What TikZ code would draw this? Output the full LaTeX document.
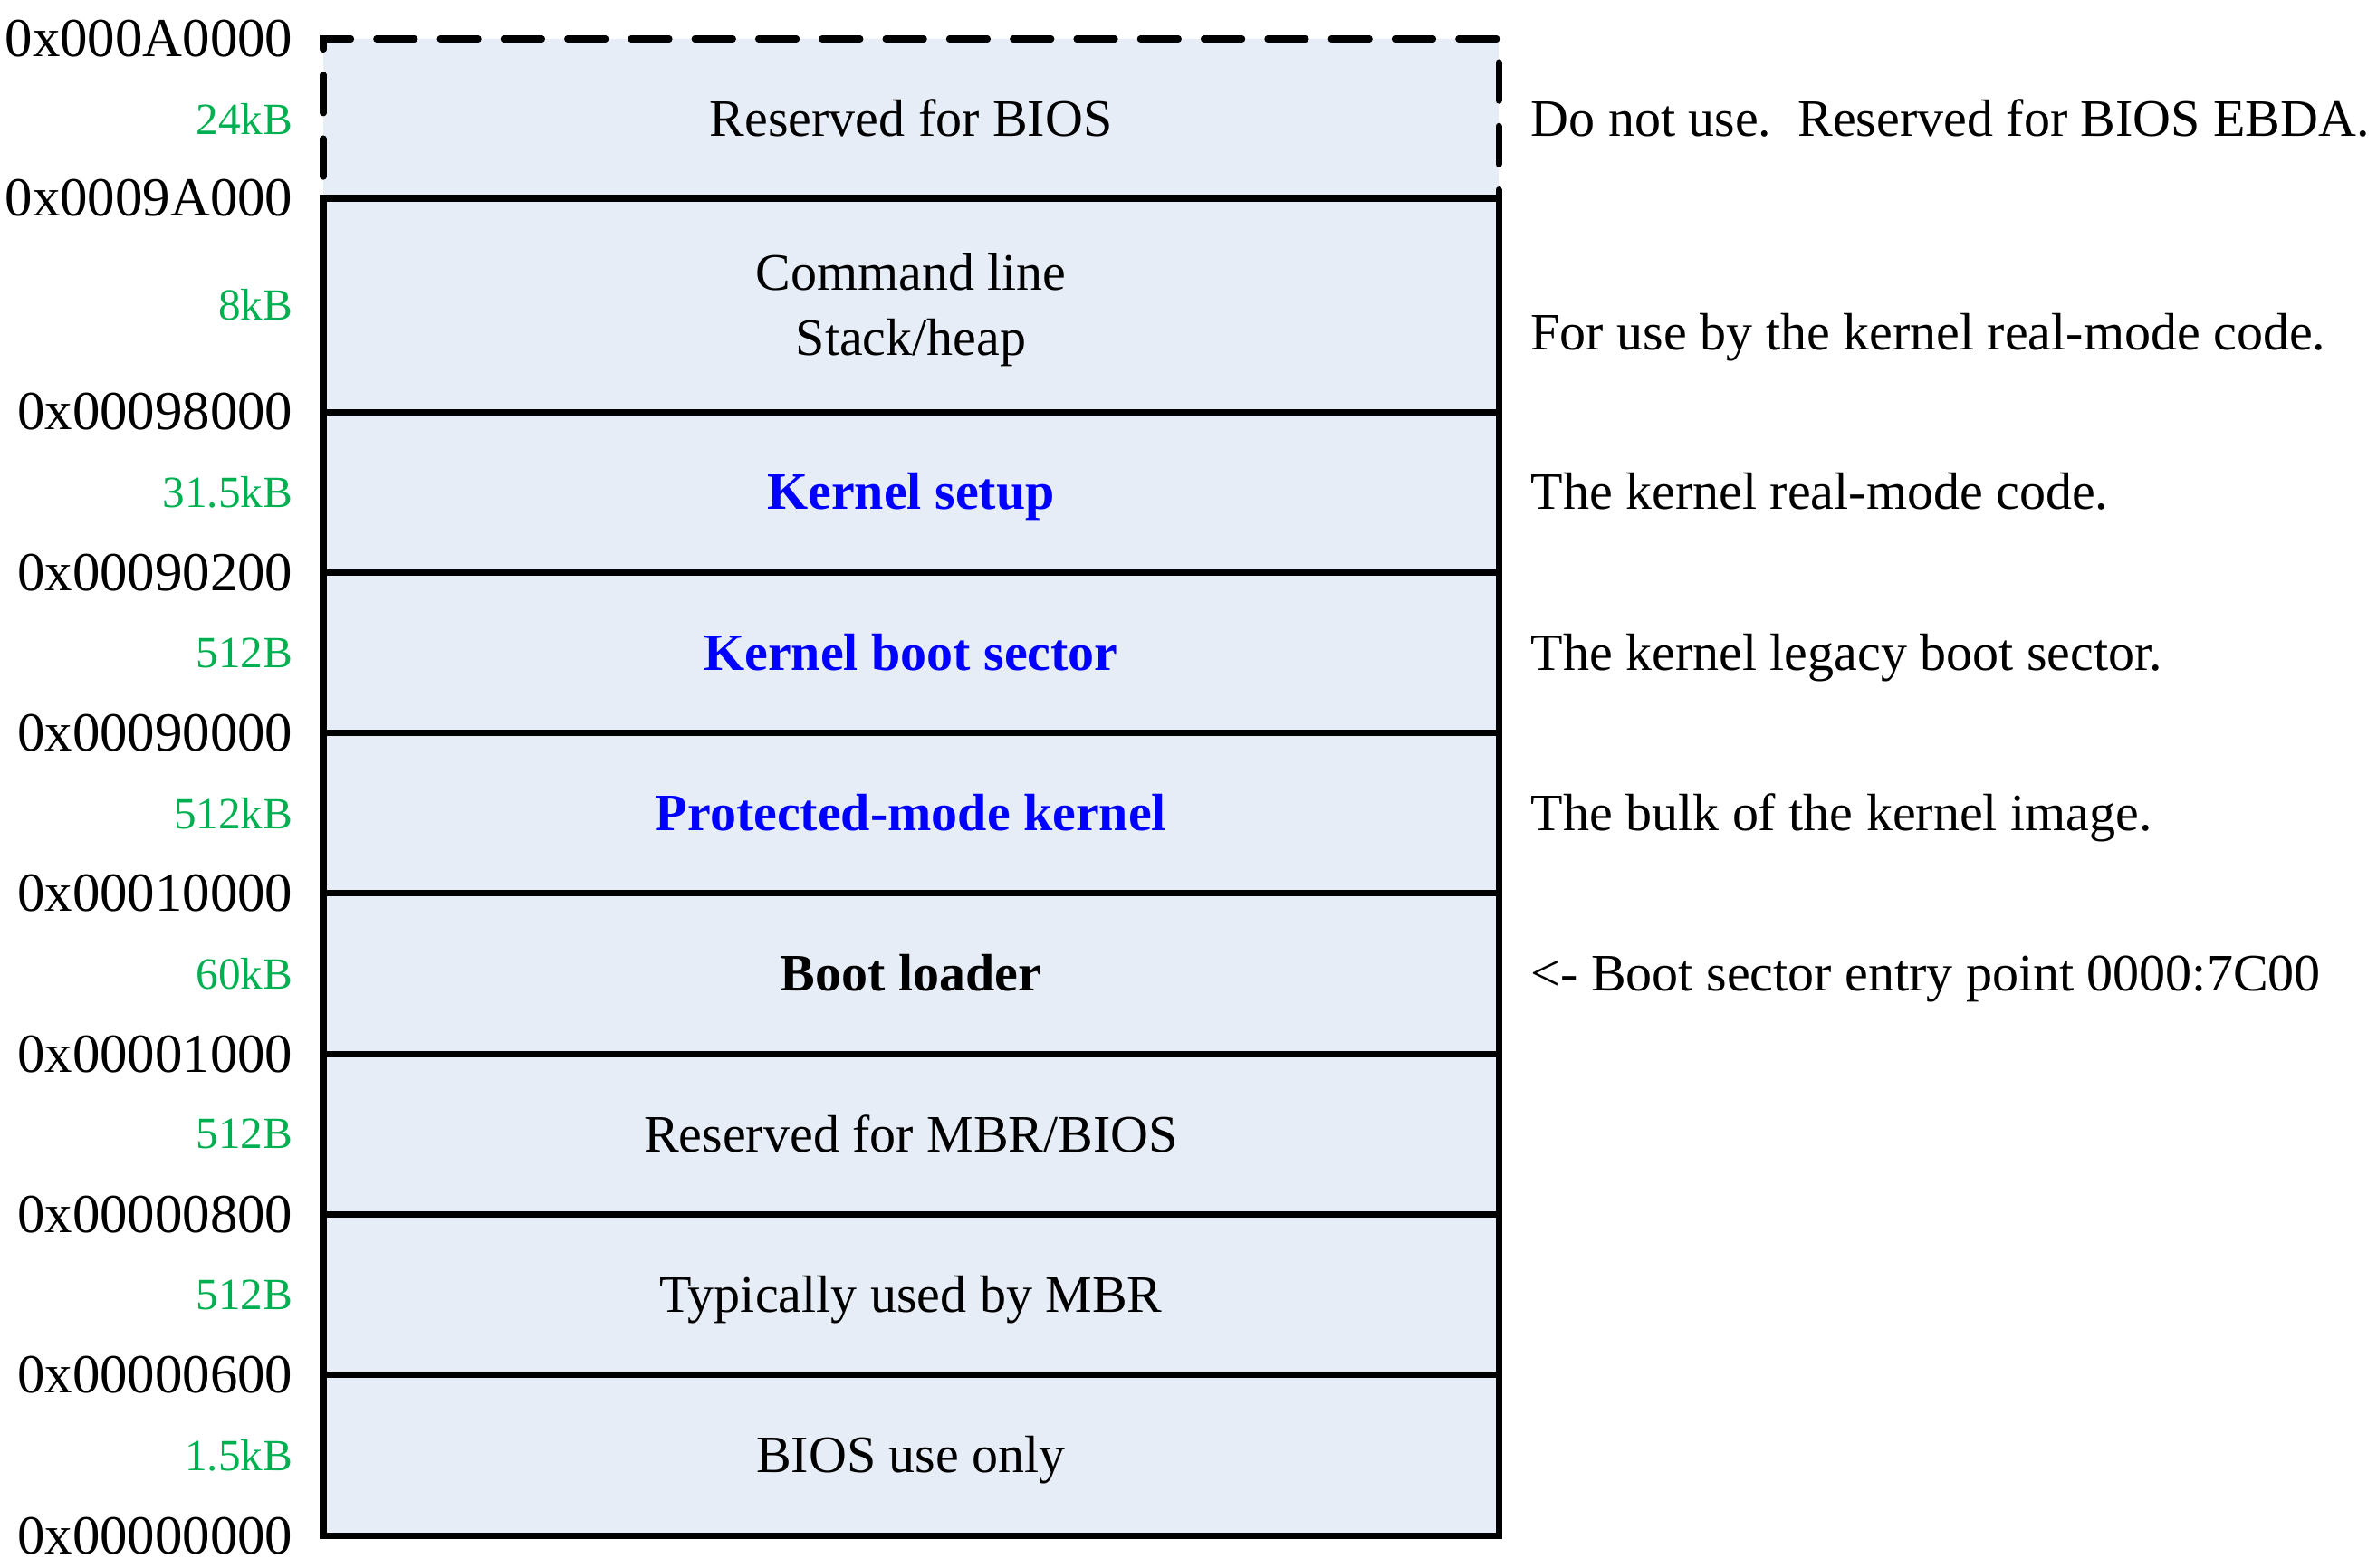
\documentclass[tikz,border=0pt]{standalone}
\usepackage{fontspec}
\setmainfont{Liberation Serif}
\usetikzlibrary{chains,positioning}
\definecolor{memfill}{RGB}{231,237,247}
\definecolor{sizegreen}{RGB}{0,176,80}
\definecolor{kblue}{RGB}{0,0,255}
\newcommand{\kpart}[1]{\textcolor{kblue}{\textbf{#1}}}

\begin{document}
\begin{tikzpicture}[seg/.style={rectangle, draw, line width=2pt, fill=memfill, outer sep=0pt, inner sep=0pt,
        minimum width=12.98cm, minimum height=1.773cm, text height=10.9pt, text depth=0pt,
        font=\fontsize{16.5}{20.5}\selectfont, align=center, on chain},
    addr/.style={inner sep=0pt, font=\fontsize{17.3}{20}\selectfont},
    sz/.style={inner sep=0pt, text=sizegreen, font=\fontsize{14}{16}\selectfont},
    desc/.style={inner sep=0pt, text height=10.9pt, text depth=0pt, font=\fontsize{16.5}{20}\selectfont},
    start chain=going below, node distance=0pt]

                \useasboundingbox (-10.06,-16.00) rectangle (16.19,1.31);

                % memory segments, top to bottom
                \node[seg, minimum height=1.76cm, dash pattern=on 12pt off 8pt, line cap=round] (ebda) {Reserved for BIOS};
                \node[seg, minimum height=2.36cm, text height=31.4pt, text depth=0pt] (cmd) {Command line\\Stack/heap};

                \foreach \x/ \txt in {setup/\kpart{Kernel setup}, bsect/\kpart{Kernel boot sector},
                    pmode/\kpart{Protected-mode kernel}, boot/\textbf{Boot loader},
                    mbrres/{Reserved for MBR/BIOS}, mbr/Typically used by MBR, bios/BIOS use only}{
                    \node[seg] (\x) {\txt};
                }

                % addresses
                \foreach \x/ \a in {ebda/0x000A0000, cmd/0x0009A000, setup/0x00098000, bsect/0x00090200,
                    pmode/0x00090000, boot/0x00010000, mbrres/0x00001000, mbr/0x00000800, bios/0x00000600}{
                    \node[addr, left=0.33cm of \x.north west] (a-\x) {\a};
                }
                \node[addr, left=0.33cm of bios.south west] (a-end) {0x00000000};

                % sizes
                \foreach \x/ \s in {ebda/24kB, cmd/8kB, setup/31.5kB, bsect/512B, pmode/512kB,
                    boot/60kB, mbrres/512B, mbr/512B, bios/1.5kB}{
                    \node[sz, left=0.33cm of \x.west] (s-\x) {\s};
                }

                % notes
                \foreach \x/ \d in {ebda/{Do not use.\ \ Reserved for BIOS EBDA.}, setup/The kernel real-mode code.,
                    bsect/The kernel legacy boot sector., pmode/The bulk of the kernel image.,
                    boot/{<- Boot sector entry point 0000:7C00}}{
                    \node[desc, right=0.35cm of \x.east] (d-\x) {\d};
                }
                \node[desc, right=0.35cm of cmd.east, yshift=-0.3cm] (d-cmd) {For use by the kernel real-mode code.};

        \end{tikzpicture}
\end{document}
